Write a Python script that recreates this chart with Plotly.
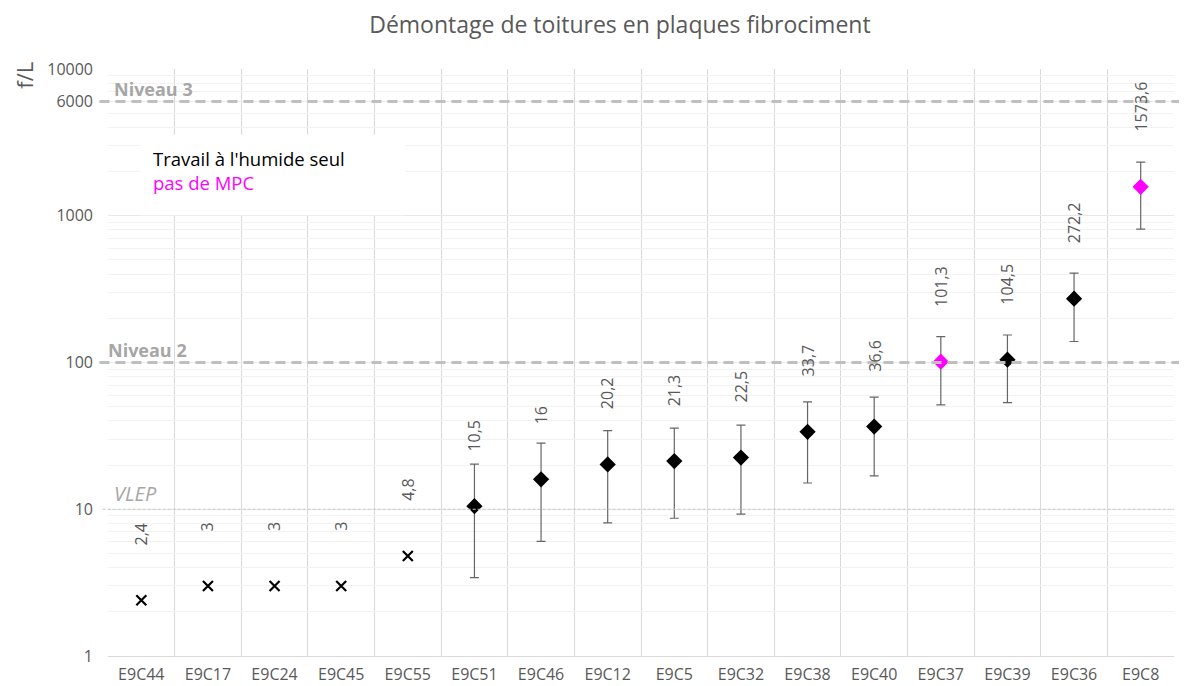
import math
import plotly.graph_objects as go

# ---- data ----
categories = ["E9C44", "E9C17", "E9C24", "E9C45", "E9C55", "E9C51", "E9C46", "E9C12",
              "E9C5", "E9C32", "E9C38", "E9C40", "E9C37", "E9C39", "E9C36", "E9C8"]
values = [2.4, 3, 3, 3, 4.8, 10.5, 16, 20.2, 21.3, 22.5, 33.7, 36.6, 101.3, 104.5, 272.2, 1573.6]
err_upper = [None, None, None, None, None, 20.3, 28.2, 34.3, 35.7, 37.4, 53.9, 58.0, 150, 154, 406, 2318]
err_lower = [None, None, None, None, None, 3.42, 6.05, 8.07, 8.68, 9.25, 15.1, 16.9, 51.4, 53.3, 139, 810]
no_mpc = ["E9C37", "E9C8"]
ytick_vals = [1, 10, 100, 1000, 6000, 10000]
thresholds = {"Niveau 3": 6000, "Niveau 2": 100, "VLEP": 10}

GRAY = "#595959"
FONT = "Open Sans"

fig = go.Figure()

xs = list(range(len(categories)))
cross_idx = [i for i in xs if err_upper[i] is None]
diam_idx = [i for i in xs if err_upper[i] is not None]

# crosses (no error bars)
fig.add_trace(go.Scatter(
    x=[i for i in cross_idx], y=[values[i] for i in cross_idx],
    mode="markers",
    marker=dict(symbol="x-thin", size=10, line=dict(color="black", width=2.2)),
    showlegend=False, hoverinfo="skip"))

# diamonds with asymmetric error bars
fig.add_trace(go.Scatter(
    x=diam_idx, y=[values[i] for i in diam_idx],
    mode="markers",
    marker=dict(symbol="diamond", size=12.5,
                color=["#ff00ff" if categories[i] in no_mpc else "black" for i in diam_idx],
                line=dict(width=0)),
    error_y=dict(type="data", symmetric=False,
                 array=[err_upper[i] - values[i] for i in diam_idx],
                 arrayminus=[values[i] - err_lower[i] for i in diam_idx],
                 color="#666666", thickness=1.2, width=4.5),
    showlegend=False, hoverinfo="skip"))

# data labels
for i in xs:
    txt = ("%g" % values[i]).replace(".", ",")
    fig.add_annotation(x=i, y=math.log10(values[i]), text=txt, textangle=-90,
                       showarrow=False, xanchor="center", yanchor="bottom", yshift=53,
                       font=dict(family=FONT, size=16, color=GRAY))

# threshold lines
fig.add_shape(type="line", xref="paper", yref="y", x0=-0.008, x1=1.02,
              y0=thresholds["Niveau 3"], y1=thresholds["Niveau 3"],
              line=dict(color="#bfbfbf", width=3, dash="10px,6px"))
fig.add_shape(type="line", xref="paper", yref="y", x0=-0.008, x1=1.02,
              y0=thresholds["Niveau 2"], y1=thresholds["Niveau 2"],
              line=dict(color="#bfbfbf", width=3, dash="10px,6px"))
fig.add_shape(type="line", xref="paper", yref="y", x0=-0.005, x1=1.0,
              y0=thresholds["VLEP"], y1=thresholds["VLEP"],
              line=dict(color="#c8c8c8", width=1, dash="3px,2px"))

fig.add_annotation(xref="paper", x=0.004, yref="y", y=math.log10(thresholds["Niveau 3"]),
                   text="<b>Niveau 3</b>", showarrow=False, xanchor="left", yanchor="bottom",
                   yshift=-1, font=dict(family=FONT, size=18, color="#a6a6a6"))
fig.add_annotation(xref="paper", x=-0.002, yref="y", y=math.log10(thresholds["Niveau 2"]),
                   text="<b>Niveau 2</b>", showarrow=False, xanchor="left", yanchor="bottom",
                   yshift=-1, font=dict(family=FONT, size=18, color="#a6a6a6"))
fig.add_annotation(xref="paper", x=0.004, yref="y", y=math.log10(thresholds["VLEP"]),
                   text="<i>VLEP</i>", showarrow=False, xanchor="left", yanchor="bottom",
                   yshift=0, font=dict(family=FONT, size=20, color="#a6a6a6"))

# legend box
fig.add_shape(type="rect", xref="paper", yref="paper", x0=0.030, x1=0.279, y0=0.751, y1=0.888,
              fillcolor="white", line=dict(width=0), layer="above")
fig.add_annotation(xref="paper", yref="paper", x=0.040, y=0.848, xanchor="left", yanchor="middle",
                   text="Travail à l'humide seul", showarrow=False,
                   font=dict(family=FONT, size=18.5, color="black"))
fig.add_annotation(xref="paper", yref="paper", x=0.040, y=0.806, xanchor="left", yanchor="middle",
                   text="pas de MPC", showarrow=False,
                   font=dict(family=FONT, size=18.5, color="#ff00ff"))

# axis title f/L
fig.add_annotation(xref="paper", yref="paper", x=-0.079, y=0.99, xanchor="center", yanchor="middle",
                   text="f/L", textangle=-90, showarrow=False,
                   font=dict(family=FONT, size=22, color=GRAY))

fig.update_layout(
    width=1179, height=678,
    margin=dict(l=100, r=13, t=61, b=30, autoexpand=False),
    paper_bgcolor="white", plot_bgcolor="white",
    title=dict(text="Démontage de toitures en plaques fibrociment", x=0.519, xanchor="center",
               y=0.975, yanchor="middle", font=dict(family=FONT, size=23, color=GRAY)),
    xaxis=dict(range=[-0.5, len(categories) - 0.5], tickvals=xs, ticktext=categories,
               showgrid=False, zeroline=False, ticks="", automargin=False, ticklabelstandoff=4,
               tickfont=dict(family=FONT, size=16, color=GRAY),
               showline=True, linecolor="#d9d9d9", linewidth=1,
               minor=dict(tickvals=[k - 0.5 for k in range(len(categories) + 1)],
                          showgrid=True, gridcolor="#d9d9d9", gridwidth=1, ticks="")),
    yaxis=dict(type="log", range=[0, 4], tickvals=ytick_vals,
               ticktext=[str(v) for v in ytick_vals], automargin=False, ticklabelstandoff=14,
               showgrid=True, gridcolor="#e8e8e8", gridwidth=1, zeroline=False,
               tickfont=dict(family=FONT, size=16, color=GRAY), ticks="",
               minor=dict(dtick="D1", showgrid=True, gridcolor="#f2f2f2", gridwidth=1, ticks="")),
)

fig.write_html("out.html")
